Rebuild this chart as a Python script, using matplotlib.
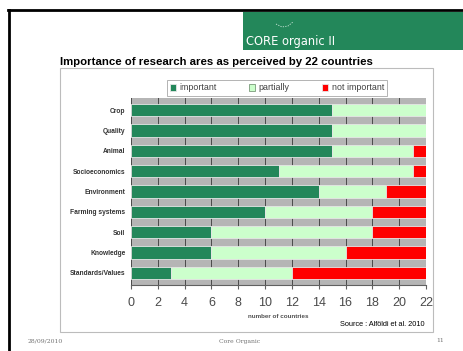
import matplotlib.pyplot as plt
from matplotlib.patches import Rectangle
from matplotlib.lines import Line2D

# Survey results per research area (number of countries)
areas = ["Crop", "Quality", "Animal", "Socioeconomics", "Environment",
         "Farming systems", "Soil", "Knowledge", "Standards/Values"]
important = [15, 15, 15, 11, 14, 10, 6, 6, 3]
partially = [7, 7, 6, 10, 5, 8, 12, 10, 9]
not_important = [0, 0, 1, 1, 3, 4, 4, 6, 10]
x_ticks = [0, 2, 4, 6, 8, 10, 12, 14, 16, 18, 20, 22]

GREEN = "#23875a"
LIGHT = "#ccffcc"
RED = "#ff0000"

fig = plt.figure(figsize=(4.64, 3.51), dpi=100)
W, H = 464, 351

def fx(px):
    return px / W

def fy(py):
    return 1 - py / H

# slide frame
fig.add_artist(Line2D([fx(8), 1], [fy(10), fy(10)], color="black", lw=2))
fig.add_artist(Line2D([fx(9), fx(9)], [fy(10), 0], color="black", lw=2))

# header band with logo text
fig.add_artist(Rectangle((fx(243), fy(50)), 1 - fx(243), fy(12) - fy(50),
                         transform=fig.transFigure, facecolor="#23875a",
                         edgecolor="none"))
fig.text(fx(246), fy(41), "CORE organic II", color="white", fontsize=8.3,
         family="DejaVu Sans", va="center", ha="left")
fig.add_artist(Line2D([fx(276), fx(282), fx(288), fx(293)],
                      [fy(24), fy(27), fy(26), fy(22)], color="#cfe8dc", lw=0.6,
                      ls=(0, (1.5, 1.5))))

fig.text(fx(60), fy(62), "Importance of research ares as perceived by 22 countries",
         fontsize=8.2, fontweight="bold", family="Liberation Sans",
         va="center", ha="left")

# chart frame, kept behind the axes
fig.add_artist(Rectangle((fx(60), fy(332)), fx(433) - fx(60), fy(68) - fy(332),
                         transform=fig.transFigure, facecolor="white",
                         edgecolor="#bcbcbc", lw=0.8, zorder=-5))

ax = fig.add_axes([fx(131), fy(285), fx(426) - fx(131), fy(98) - fy(285)])
ax.set_zorder(2)
ax.set_facecolor("#b5b5b5")

y = list(range(len(areas)))
left2 = [a for a in important]
left3 = [a + b for a, b in zip(important, partially)]
ax.barh(y, important, height=0.6, color=GREEN, edgecolor="#e6e6e6", lw=0.6,
        label="important", zorder=3)
ax.barh(y, partially, left=left2, height=0.6, color=LIGHT, edgecolor="#e6e6e6",
        lw=0.6, label="partially", zorder=3)
ax.barh(y, not_important, left=left3, height=0.6, color=RED, edgecolor="#e6e6e6",
        lw=0.6, label="not important", zorder=3)

ax.set_xlim(0, 22)
ax.set_ylim(len(areas) - 0.4, -0.6)
ax.set_xticks(x_ticks)
ax.set_xticklabels([str(t) for t in x_ticks], fontsize=9, color="#4a4a4a",
                   family="Liberation Sans")
ax.set_yticks(y)
ax.set_yticklabels(areas, fontsize=4.8, fontweight="bold", color="#333333",
                   family="Liberation Sans")
ax.tick_params(axis="y", length=0, pad=4)
ax.tick_params(axis="x", length=3, color="#606060", pad=6)
ax.grid(axis="x", color="#4a4a4a", lw=0.7, zorder=1)
ax.set_axisbelow(True)
for s in ["top", "right", "left"]:
    ax.spines[s].set_visible(False)
ax.spines["bottom"].set_color("#606060")
ax.spines["bottom"].set_linewidth(0.8)

ax.set_xlabel("number of countries", fontsize=4.5, fontweight="bold",
              color="#505050", family="Liberation Sans", labelpad=3)

leg = ax.legend(loc="center", bbox_to_anchor=(fx(277), fy(88)),
                bbox_transform=fig.transFigure, ncol=3,
                frameon=True, fancybox=False, edgecolor="#a0a0a0",
                handlelength=0.7, handleheight=0.7, handletextpad=0.4,
                columnspacing=3.6, borderpad=0.35, borderaxespad=0,
                prop={"family": "Liberation Sans", "size": 6.4})
for t in leg.get_texts():
    t.set_color("#404040")
leg.get_frame().set_linewidth(0.7)
leg.legend_handles[1].set_edgecolor("#7a9a7a")

fig.text(fx(425), fy(324), "Source : Alföldi et al. 2010", fontsize=5.3,
         family="Liberation Sans", ha="right", va="center")

# footer
fig.text(fx(28), fy(341), "28/09/2010", fontsize=4.4, color="#707070",
         family="DejaVu Serif", ha="left", va="center")
fig.text(fx(240), fy(341), "Core Organic", fontsize=4.4, color="#707070",
         family="DejaVu Serif", ha="center", va="center")
fig.text(fx(444), fy(341), "11", fontsize=4.4, color="#707070",
         family="DejaVu Serif", ha="right", va="center")

fig.savefig("out.png", dpi=100)
